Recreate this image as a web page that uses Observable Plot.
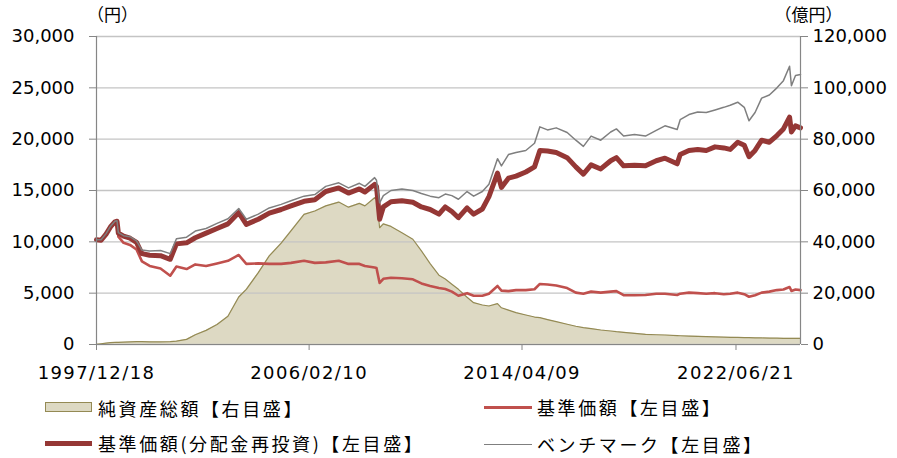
<!DOCTYPE html>
<html>
<head>
<meta charset="utf-8">
<script src="https://cdn.jsdelivr.net/npm/d3@7"></script>
<script src="https://cdn.jsdelivr.net/npm/@observablehq/plot@0.6"></script>
<style>
  html, body { margin: 0; padding: 0; background: #fff; }
  #wrap { width: 897px; height: 458px; position: relative; overflow: hidden; }
  #legend { position: relative; width: 897px; height: 68px; font-family: "Noto Sans CJK JP", sans-serif; font-size: 18px; color: #000; }
  #legend .t { position: absolute; line-height: 24px; white-space: nowrap; letter-spacing: 2.6px; }
  #legend .s { position: absolute; box-sizing: border-box; }
  g[aria-label="x-axis tick label"] text { letter-spacing: 1.4px; }
</style>
</head>
<body>
<div id="wrap"><div id="chart"></div>
<div id="legend"></div></div>
<script>
// ---- data ----
const dates = [
  "1997-12-18","1998-02-20","1998-05-01","1998-07-01","1998-09-01","1998-10-01","1998-10-20","1999-01-01","1999-04-01","1999-07-01",
  "1999-09-15","2000-01-01","2000-06-01","2000-10-15","2001-01-10","2001-06-01","2001-10-01","2002-03-01","2002-08-01","2003-01-01",
  "2003-06-01","2003-09-15","2004-03-01","2004-08-01","2005-01-15","2005-06-01","2005-12-01","2006-05-01","2006-10-01","2007-04-01",
  "2007-08-15","2008-01-15","2008-04-01","2008-08-15","2008-09-10","2008-10-24","2008-12-15","2009-04-01","2009-09-01","2010-02-01",
  "2010-06-01","2010-10-01","2011-02-01","2011-05-01","2011-08-01","2011-11-01","2012-03-01","2012-06-01","2012-10-01","2013-01-01",
  "2013-05-01","2013-06-25","2013-10-01","2014-01-15","2014-06-01","2014-10-01","2014-12-15","2015-04-01","2015-08-01","2016-01-01",
  "2016-05-01","2016-08-15","2016-12-01","2017-04-15","2017-09-01","2017-11-20","2018-03-01","2018-08-01","2019-01-01","2019-06-01",
  "2019-10-01","2020-03-20","2020-05-01","2020-09-01","2021-01-01","2021-05-01","2021-09-01","2022-01-01","2022-04-01","2022-07-15",
  "2022-10-15","2022-12-20","2023-03-15","2023-06-15","2023-10-01","2024-01-15","2024-04-15","2024-07-10","2024-08-05","2024-10-01",
  "2024-12-10"
];
// ベンチマーク【左目盛】 (円)
const benchmark = [
  10200,10200,10800,11500,12000,12050,10900,10600,10500,10100,
  9200,9100,9150,8850,10300,10450,11050,11300,11800,12250,
  13250,12200,12700,13300,13650,14000,14450,14600,15400,15750,
  15250,15700,15400,16250,16000,13800,14500,15000,15150,15000,
  14700,14450,14300,14650,14500,14150,14900,14450,14900,15600,
  18100,17400,18500,18700,18900,19600,21200,20900,21100,20650,
  19900,19300,20300,19900,20700,21000,20300,20450,20300,20850,
  21300,20950,21900,22400,22650,22600,22850,23100,23300,23600,
  23100,21800,22600,24000,24300,25000,25700,27100,25200,26200,
  26300
];
// 基準価額（分配金再投資）【左目盛】 (円)
const reinvested = [
  10200,10150,10750,11450,11950,12000,10850,10550,10350,9950,
  8850,8700,8650,8300,9800,9900,10400,10850,11300,11750,
  12850,11700,12200,12800,13150,13500,13950,14100,14900,15250,
  14750,15150,14850,15600,15400,12200,13400,13900,14000,13850,
  13400,13150,12700,13400,12950,12350,13300,12700,13200,14400,
  16700,15300,16200,16400,16800,17300,18900,18850,18700,18200,
  17300,16600,17500,17100,17900,18200,17400,17450,17400,17900,
  18150,17600,18500,18900,19000,18900,19250,19150,19000,19700,
  19400,18300,18900,19900,19700,20350,21000,22150,20700,21300,
  21100
];
// 基準価額【左目盛】 (円)
const nav = [
  10200,10150,10700,11400,11850,11800,10500,9900,9700,9250,
  8100,7650,7400,6700,7600,7350,7800,7650,7900,8150,
  8720,7850,7900,7850,7850,7950,8150,7950,8000,8150,
  7850,7850,7650,7500,7450,6000,6400,6500,6450,6350,
  5950,5700,5500,5400,5150,4750,5000,4750,4750,4950,
  5700,5250,5200,5300,5300,5380,5900,5850,5750,5500,
  5050,4950,5150,5050,5150,5200,4800,4800,4820,4950,
  4950,4820,4950,5050,5000,4950,5000,4900,4950,5050,
  4900,4650,4800,5050,5150,5300,5350,5600,5220,5350,
  5300
];
// 純資産総額【右目盛】 (億円)
const netAssets = [
  100,300,500,700,800,850,850,900,1000,1100,
  1100,1050,1000,1100,1300,2000,3800,5500,7800,11000,
  18500,21500,28000,34500,39500,44300,50700,52000,54000,55500,
  53500,55000,54000,57200,56500,45500,47000,46000,43500,41000,
  36500,31500,27000,25500,23500,21500,18400,16300,15400,15000,
  15900,14300,13400,12400,11500,10700,10450,9700,8900,7900,
  7100,6550,6200,5650,5250,5000,4750,4350,3950,3800,
  3700,3450,3400,3300,3200,3050,2950,2850,2800,2750,
  2700,2650,2600,2550,2500,2450,2400,2400,2400,2400,
  2400
];
const leftTicks = [0, 5000, 10000, 15000, 20000, 25000, 30000];
const rightRatio = 4; // 右目盛 = 左目盛 × 4 (0〜120,000 億円)
const xTickDates = ["1997-12-18", "2006-02-10", "2014-04-09", "2022-06-21"];
const xDomain = ["1997-12-18", "2024-12-10"];
const legendItems = [
  {label: "純資産総額【右目盛】", kind: "area"},
  {label: "基準価額【左目盛】", kind: "nav"},
  {label: "基準価額(分配金再投資)【左目盛】", kind: "reinv"},
  {label: "ベンチマーク【左目盛】", kind: "bench"}
];

// ---- build ----
const data = dates.map((d, i) => ({
  date: new Date(d), bench: benchmark[i], reinv: reinvested[i], nav: nav[i], assets: netAssets[i]
}));
const fmt = d3.format(",");
const axisColor = "#868686";
const numFont = "'DejaVu Sans', sans-serif";
const jpFont = "'Noto Sans CJK JP', sans-serif";

const chart = Plot.plot({
  width: 897,
  height: 390,
  marginLeft: 96,
  marginRight: 97,
  marginTop: 36,
  marginBottom: 46,
  style: {fontFamily: numFont, fontSize: "18px", background: "#fff", color: "#000", overflow: "visible"},
  x: {type: "utc", domain: xDomain.map(d => new Date(d))},
  y: {domain: [0, 30000]},
  marks: [
    Plot.areaY(data, {x: "date", y: d => d.assets / rightRatio, fill: "#ddd9c3"}),
    Plot.gridY(leftTicks, {stroke: "#c4c4c4", strokeOpacity: 1, strokeWidth: 1.3}),
    Plot.line(data, {x: "date", y: d => d.assets / rightRatio, stroke: "#948a54", strokeWidth: 1.2}),
    Plot.line(data, {x: "date", y: "nav", stroke: "#c0504d", strokeWidth: 2.6}),
    Plot.line(data, {x: "date", y: "reinv", stroke: "#953735", strokeWidth: 5}),
    Plot.line(data, {x: "date", y: "bench", stroke: "#7f7f7f", strokeWidth: 1.5}),
    Plot.ruleY([0], {stroke: axisColor, strokeWidth: 1.2}),
    Plot.ruleX(xDomain.map(d => new Date(d)), {stroke: axisColor, strokeWidth: 1.2}),
    Plot.axisY(leftTicks, {anchor: "left", tickSize: 7, tickPadding: 15, tickFormat: fmt, stroke: axisColor, fill: "#000", label: null, fontSize: 18}),
    Plot.axisY(leftTicks, {anchor: "right", tickSize: 7, tickPadding: 5, tickFormat: d => fmt(d * rightRatio), stroke: axisColor, fill: "#000", label: null, fontSize: 18}),
    Plot.axisX(xTickDates.map(d => new Date(d)), {tickSize: 6, tickPadding: 16, tickFormat: d3.utcFormat("%Y/%m/%d"), stroke: axisColor, fill: "#000", label: null, fontSize: 18}),
    Plot.text(["（円）"], {text: d => d, frameAnchor: "top-left", textAnchor: "middle", lineAnchor: "middle", dx: 16, dy: -21, fontFamily: jpFont, fontSize: 17, fill: "#000"}),
    Plot.text(["（億円）"], {text: d => d, frameAnchor: "top-right", textAnchor: "middle", lineAnchor: "middle", dx: 8, dy: -21, fontFamily: jpFont, fontSize: 17, fill: "#000"})
  ]
});
document.getElementById("chart").appendChild(chart);

// ---- legend ----
const legend = document.getElementById("legend");
const pos = {
  area:  {sx: 45,  sy: 12, sw: 47, sh: 10, tx: 98,  ty: 6},
  nav:   {sx: 484, sy: 16, sw: 48, sh: 2.6, tx: 537, ty: 5},
  reinv: {sx: 45,  sy: 50.5, sw: 47, sh: 5, tx: 98, ty: 41},
  bench: {sx: 484, sy: 53.5, sw: 48, sh: 1.5, tx: 537, ty: 42}
};
const swStyle = {
  area: "background:#ddd9c3;border:1px solid #948a54;",
  nav: "background:#c0504d;",
  reinv: "background:#953735;",
  bench: "background:#7f7f7f;"
};
legendItems.forEach(it => {
  const p = pos[it.kind];
  const s = document.createElement("div");
  s.className = "s";
  s.style.cssText = `left:${p.sx}px;top:${p.sy}px;width:${p.sw}px;height:${p.sh}px;` + swStyle[it.kind];
  legend.appendChild(s);
  const t = document.createElement("div");
  t.className = "t";
  t.style.left = p.tx + "px";
  t.style.top = p.ty + "px";
  t.textContent = it.label;
  legend.appendChild(t);
});
</script>
</body>
</html>
